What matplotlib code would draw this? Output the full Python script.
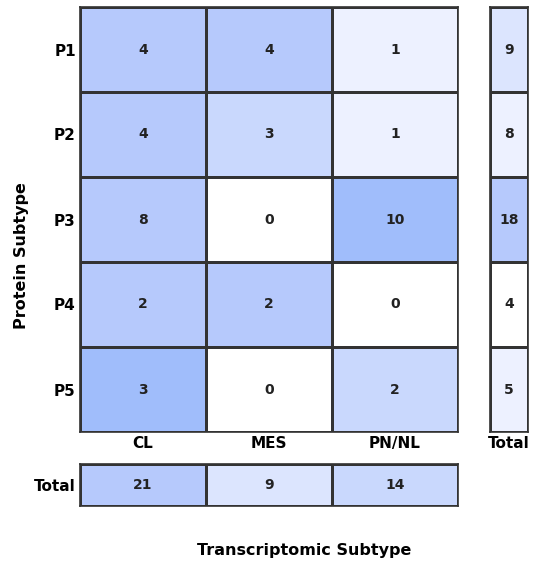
import numpy as np
import matplotlib
matplotlib.use("Agg")
import matplotlib.pyplot as plt
from matplotlib.colors import ListedColormap, BoundaryNorm

plt.rcParams["font.family"] = ["DejaVu Sans"]

protein = ["P1", "P2", "P3", "P4", "P5"]
transcriptomic = ["CL", "MES", "PN/NL"]
counts = np.array([
    [4, 4, 1],
    [4, 3, 1],
    [8, 0, 10],
    [2, 2, 0],
    [3, 0, 2],
])
row_totals = counts.sum(axis=1)
col_totals = counts.sum(axis=0)
grand_total = counts.sum()

# discrete blue shading by share
shades = ["#ffffff", "#edf1ff", "#dce5fe", "#c9d8fd", "#b6c9fc", "#a0bdfb"]
bounds = [0, 0.1, 0.19, 0.3, 0.405, 0.55, 1.0]
cmap = ListedColormap(shades)
norm = BoundaryNorm(bounds, cmap.N)

edge = "#333333"
fig = plt.figure(figsize=(5.4, 5.65), dpi=100)

W, H = 540, 565
def box(x0, y0, x1, y1):
    return [x0 / W, 1 - y1 / H, (x1 - x0) / W, (y1 - y0) / H]

def draw(ax, values, shares, xlabels, ylabels):
    nr, nc = values.shape
    ax.pcolormesh(np.arange(nc + 1), np.arange(nr + 1), shares, cmap=cmap, norm=norm,
                  edgecolors=edge, linewidth=0.75)
    for i in range(nr):
        for j in range(nc):
            ax.text(j + 0.5, i + 0.5, str(values[i, j]), ha="center", va="center",
                    fontsize=10, fontweight="bold", color="#222222")
    ax.set_xlim(0, nc)
    ax.set_ylim(nr, 0)
    ax.set_xticks(np.arange(nc) + 0.5)
    ax.set_xticklabels(xlabels, fontsize=11, fontweight="bold")
    ax.set_yticks(np.arange(nr) + 0.5)
    ax.set_yticklabels(ylabels, fontsize=11, fontweight="bold")
    ax.tick_params(length=0, pad=3)
    for s in ax.spines.values():
        s.set_linewidth(1.2)
        s.set_color(edge)

# main contingency table, shaded by row share
ax = fig.add_axes(box(80, 7, 458, 432))
draw(ax, counts, counts / row_totals[:, None], transcriptomic, protein)

# row totals
axr = fig.add_axes(box(490, 7, 528, 432))
draw(axr, row_totals[:, None], (row_totals / grand_total)[:, None], ["Total"], [])

# column totals
axc = fig.add_axes(box(80, 464, 458, 506))
draw(axc, col_totals[None, :], (col_totals / grand_total)[None, :], [], ["Total"])

fig.text(22 / W, 1 - 256 / H, "Protein Subtype", rotation=90, ha="center", va="center",
         fontsize=11.5, fontweight="bold")
fig.text(304 / W, 1 - 551 / H, "Transcriptomic Subtype", ha="center", va="center",
         fontsize=11.5, fontweight="bold")

fig.savefig("out.png", dpi=100)
